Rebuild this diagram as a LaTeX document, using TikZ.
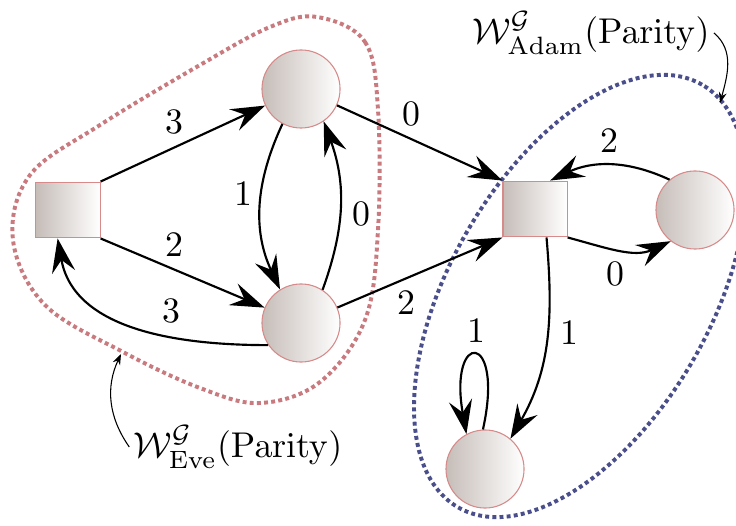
\documentclass[tikz,border=0pt]{standalone}
\usetikzlibrary{arrows.meta,calc}
\definecolor{evecol}{RGB}{200,122,126}
\definecolor{adamcol}{RGB}{74,79,140}
\definecolor{nodeedge}{RGB}{214,138,138}
\definecolor{nodeleft}{RGB}{198,189,184}
\begin{document}
\begin{tikzpicture}[x=0.2793pt,y=0.2793pt,
  state/.style={circle, draw=nodeedge, line width=0.3pt, left color=nodeleft, right color=white, minimum size=21.8pt, inner sep=0pt},
  sqstate/.style={rectangle, draw=nodeedge, line width=0.3pt, left color=nodeleft, right color=white, minimum width=17.9pt, minimum height=15.6pt, inner sep=0pt},
  arr/.style={line width=0.6pt, -{Stealth[length=9.5pt,width=6.5pt,inset=3.4pt]}},
  ann/.style={line width=0.3pt, -{Stealth[length=3pt,width=2.2pt]}},
  evereg/.style={draw=evecol, line width=1.1pt, dash pattern=on 1.1pt off 0.9pt},
  adamreg/.style={draw=adamcol, line width=1.1pt, dash pattern=on 1.1pt off 0.9pt}]
\useasboundingbox (0,0) rectangle (736,-525);

% regions
\draw[evereg] plot[smooth cycle, tension=0.6] coordinates {
  (317,-17) (365,-42) (378,-110) (378,-230) (365,-320) (320,-382) (260,-403)
  (200,-388) (123,-352) (45,-305) (13,-240) (30,-175) (100,-125) (200,-65) (270,-27)};
\draw[adamreg, rotate around={60:(580,-296)}] (580,-296) ellipse [x radius=244, y radius=130];

% nodes
\node[sqstate] (E) at (68,-210) {};
\node[state] (T) at (301,-89) {};
\node[state] (B) at (301,-323) {};
\node[sqstate] (A) at (535,-209) {};
\node[state] (R) at (695,-210) {};
\node[state] (L) at (485,-469) {};

% edges
\draw[arr] (E.north east) -- node[pos=0.45, above] {3} (T);
\draw[arr] (E.south east) -- node[pos=0.45, above] {2} (B);
\draw[arr] (B.214) to[out=180, in=-80] node[pos=0.35, above] {3} (E.250);
\draw[arr] (T.242) to[out=245, in=115] node[pos=0.42, left, xshift=1pt] {1} (B.122);
\draw[arr] (B.57) to[out=70, in=-70] node[pos=0.45, right] {0} (T.-55);
\draw[arr] (T) -- node[pos=0.45, above] {0} (A.north west);
\draw[arr] (B) -- node[pos=0.42, below] {2} (A.south west);
\draw[arr] (R.130) to[out=155, in=25] node[pos=0.5, above] {2} (A.62);
\draw[arr] (A.south east) to[out=-15, in=-155] node[pos=0.45, below] {0} (R.232);
\draw[arr] (A.-68) to[out=-85, in=60] node[pos=0.45, right] {1} (L.50);
\draw[arr] (L.93) .. controls (505,-330) and (448,-330) .. node[pos=0.5, above] {1} (L.118);

% annotations
\node[inner sep=1pt] (lblE) at (238,-447) {$\mathcal{W}^{\mathcal{G}}_{\mathrm{Eve}}(\mathrm{Parity})$};
\node[inner sep=1pt] (lblA) at (591,-33) {$\mathcal{W}^{\mathcal{G}}_{\mathrm{Adam}}(\mathrm{Parity})$};
\coordinate (eveTip) at (121,-354);
\coordinate (adamTip) at (720,-103);
\draw[ann] (lblE.west) to[out=125, in=-115] (eveTip);
\draw[ann] (lblA.east) to[out=-40, in=75] (adamTip);
\end{tikzpicture}
\end{document}
